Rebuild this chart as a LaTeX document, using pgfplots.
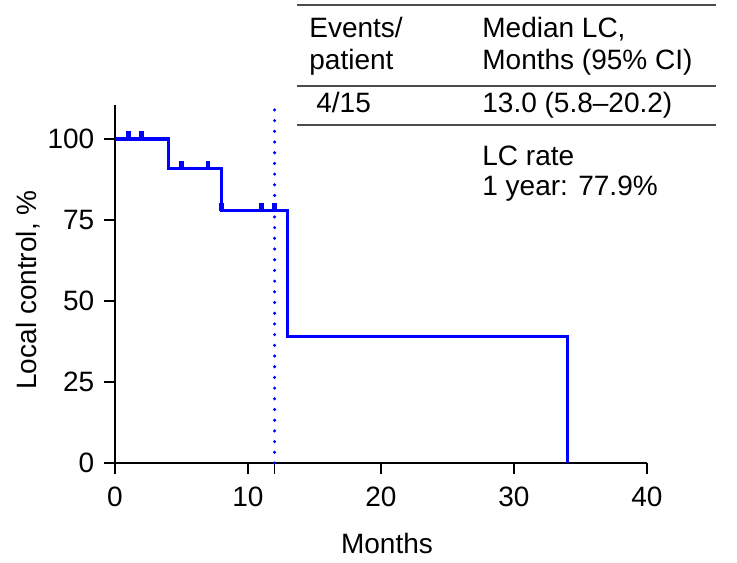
\documentclass[border=0pt]{standalone}
\usepackage{fontspec}
\setmainfont{Liberation Sans}
\usepackage{pgfplots}
\pgfplotsset{compat=1.18}
\definecolor{kmblue}{RGB}{0,0,255}
\begin{document}
\fontsize{14bp}{17bp}\selectfont
\begin{tikzpicture}
\path[use as bounding box] (0,0) rectangle (368.5bp,-281.5bp);
\begin{axis}[
  at={(57.5bp,-231.5bp)}, anchor=south west,
  scale only axis, width=266bp, height=179bp,
  xmin=0, xmax=40, ymin=0, ymax=110.5,
  axis lines*=left,
  axis line style={line width=0.75bp, -},
  tick style={line width=0.75bp, black},
  tick align=outside, major tick length=5.5bp,
  xtick={0,10,12,20,30,40}, xticklabels={0,10,,20,30,40},
  ytick={0,25,50,75,100},
  tick label style={font=\fontsize{14bp}{17bp}\selectfont},
  xticklabel style={yshift=-1.5bp},
  /pgf/number format/assume math mode=true,
  clip=false,
]
\addplot[kmblue, line width=1.7bp, line cap=round, dash pattern=on 0pt off 5.35bp] coordinates {(12,0) (12,110)};
\addplot[const plot, kmblue, line width=1.6bp] coordinates {(0,100) (4,90.91) (8,77.92) (13,38.96) (34,0)};
\addplot[only marks, kmblue, mark=|, mark size=1.9bp, mark options={line width=2.3bp, yshift=1.9bp}] coordinates {(1,100) (2,100) (5,90.91) (7,90.91) (8,77.92) (11,77.92) (12,77.92)};
\end{axis}
\begin{scope}[x=0.5bp, y=-0.5bp]
\draw[black!70, line width=0.75bp] (297,5) -- (716,5);
\draw[black!70, line width=0.75bp] (297,86) -- (716,86);
\draw[black!70, line width=0.75bp] (297,125) -- (716,125);
\node[anchor=base west, inner sep=0] at (309,37) {Events/};
\node[anchor=base west, inner sep=0] at (309,69) {patient};
\node[anchor=base west, inner sep=0] at (482,37) {Median LC,};
\node[anchor=base west, inner sep=0] at (482,69) {Months (95\% CI)};
\node[anchor=base west, inner sep=0] at (316,113) {4/15};
\node[anchor=base west, inner sep=0] at (482,113) {13.0 (5.8–20.2)};
\node[anchor=base west, inner sep=0] at (482,166) {LC rate};
\node[anchor=base west, inner sep=0] at (482,196) {1 year: 77.9\%};
\node[rotate=90, inner sep=0] at (28,290) {Local control, \%};
\node[inner sep=0] at (387,543) {Months};
\end{scope}
\end{tikzpicture}
\end{document}
